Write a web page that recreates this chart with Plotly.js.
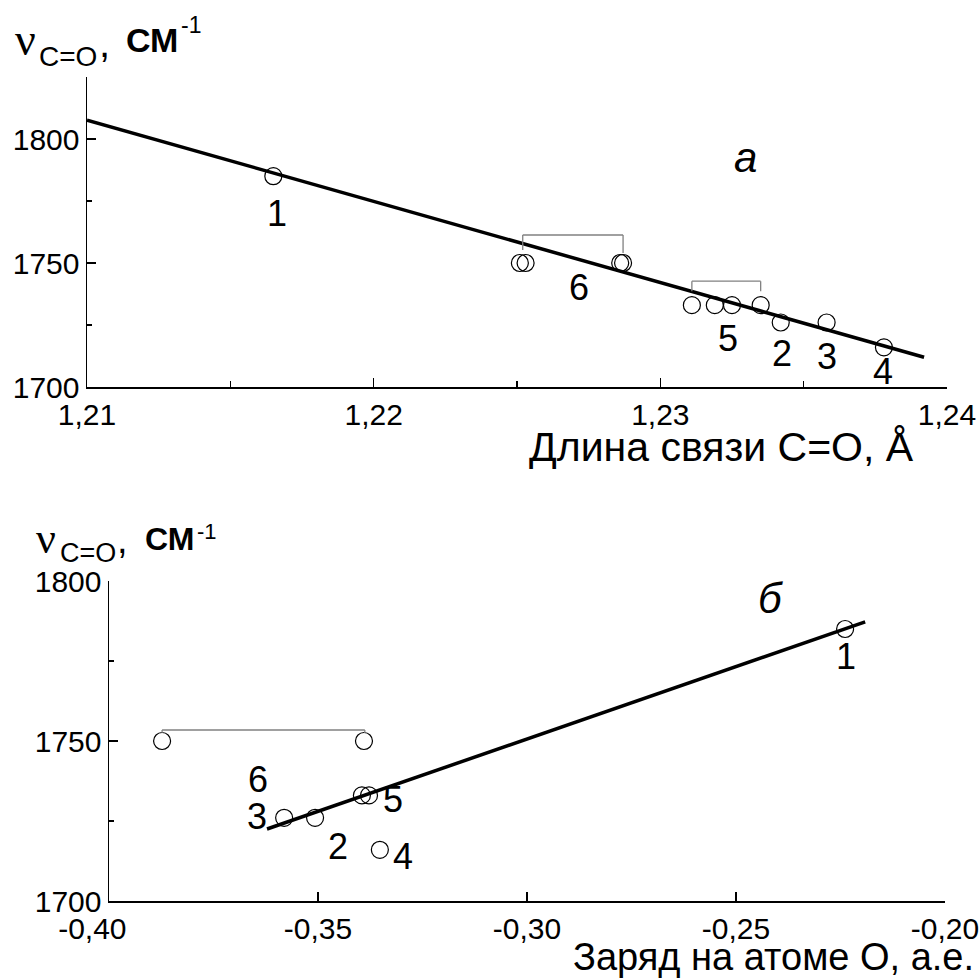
<!DOCTYPE html>
<html>
<head>
<meta charset="utf-8">
<script src="https://cdn.plot.ly/plotly-3.0.1.min.js"></script>
<style>html,body{margin:0;padding:0;background:#fff;}#chart{width:980px;height:979px;}</style>
</head>
<body>
<div id="chart"></div>
<script>
// ---------- DATA ----------
// panel a: bond length C=O (Å) vs nu(C=O) (cm-1)
const bondLen   = [1.2165, 1.2251, 1.2253, 1.2286, 1.2287, 1.2311, 1.2319, 1.2325, 1.2335, 1.2342, 1.2358, 1.2378];
const nuA       = [1785,   1750,   1750,   1750,   1750,   1733,   1733,   1733,   1733,   1726,   1726,   1716];
const fitAX     = [1.2100, 1.2392];
const fitAY     = [1807.6, 1712.0];
// panel b: charge on O atom (a.u.) vs nu(C=O)
const chargeO   = [-0.2239, -0.3873, -0.3390, -0.3395, -0.3378, -0.3581, -0.3507, -0.3352];
const nuB       = [1785,    1750,    1750,    1733,    1733,    1726,    1726,    1716];
const fitBX     = [-0.3622, -0.2191];
const fitBY     = [1722.5,  1787.2];
// group brackets (x span, group level)
const bracketA6 = [1.2252, 1.2287], levelA6 = 1750;
const bracketA5 = [1.2311, 1.2335], levelA5 = 1733;
const bracketB6 = [-0.3873, -0.3388], levelB6 = 1750;
// compound numbers
const labelsA   = ['1', '6', '5', '2', '3', '4'];
const labelsB   = ['1', '6', '5', '3', '2', '4'];
// ticks
const xTickA    = [1.21, 1.22, 1.23, 1.24];
const xTextA    = ['1,21', '1,22', '1,23', '1,24'];
const xMinorA   = [1.215, 1.225, 1.235];
const yTickA    = [1700, 1750, 1800];
const yMinorA   = [1725, 1775, 1825];
const xTickB    = [-0.40, -0.35, -0.30, -0.25, -0.20];
const xTextB    = ['-0,40', '-0,35', '-0,30', '-0,25', '-0,20'];
const yTickB    = [1700, 1750, 1800];
const yMinorB   = [1725, 1775];

// ---------- LAYOUT HELPERS ----------
const W = 980, H = 979;
const px = x => x / W;
const py = y => 1 - y / H;
const FONT = 'Liberation Sans, Arial, sans-serif';
const SERIF = 'Liberation Serif, Times New Roman, serif';
const NB = '\u00a0';

const marker = {symbol: 'circle-open', size: 17, color: '#000', line: {width: 1.2, color: '#000'}};
const traces = [
  {x: bondLen, y: nuA, mode: 'markers', marker: marker, xaxis: 'x', yaxis: 'y', cliponaxis: false},
  {x: fitAX, y: fitAY, mode: 'lines', line: {color: '#000', width: 3.5}, xaxis: 'x', yaxis: 'y', cliponaxis: false},
  {x: chargeO, y: nuB, mode: 'markers', marker: marker, xaxis: 'x2', yaxis: 'y2', cliponaxis: false},
  {x: fitBX, y: fitBY, mode: 'lines', line: {color: '#000', width: 3.5}, xaxis: 'x2', yaxis: 'y2', cliponaxis: false}
];

function axisBase() {
  return {
    showline: true, linecolor: '#000', linewidth: 1.5, mirror: false,
    ticks: 'inside', ticklen: 9, tickwidth: 1.5, tickcolor: '#000',
    showgrid: false, zeroline: false, fixedrange: true,
    tickfont: {family: FONT, size: 30, color: '#000'},
    tickmode: 'array'
  };
}
const xA = Object.assign(axisBase(), {domain: [px(87), px(947)], range: [1.21, 1.24], anchor: 'y',
  tickvals: xTickA, ticktext: xTextA,
  minor: {tickmode: 'array', tickvals: xMinorA, ticks: 'inside', ticklen: 6, tickwidth: 1.5, tickcolor: '#000', showgrid: false}});
const yA = Object.assign(axisBase(), {domain: [py(387), py(77)], range: [1700, 1825], anchor: 'x',
  tickvals: yTickA, ticktext: yTickA.map(String),
  minor: {tickmode: 'array', tickvals: yMinorA, ticks: 'inside', ticklen: 5, tickwidth: 1.5, tickcolor: '#000', showgrid: false}});
const xB = Object.assign(axisBase(), {domain: [px(109), px(945)], range: [-0.40, -0.20], anchor: 'y2',
  tickvals: xTickB, ticktext: xTextB.map((t, i) => i === 0 ? t + NB + NB + NB + NB : t)});
const yB = Object.assign(axisBase(), {domain: [py(901), py(581)], range: [1700, 1800], anchor: 'x2',
  tickvals: yTickB, ticktext: yTickB.map(String),
  minor: {tickmode: 'array', tickvals: yMinorB, ticks: 'inside', ticklen: 5, tickwidth: 1.5, tickcolor: '#000', showgrid: false}});

// brackets as shapes anchored at group level, offsets in pixels
function bracket(xref, yref, span, level, top, leftDrop, rightDrop) {
  const st = {type: 'line', xref: xref, yref: yref, ysizemode: 'pixel', yanchor: level,
              line: {color: '#808080', width: 1.3}};
  return [
    Object.assign({}, st, {x0: span[0], x1: span[1], y0: top, y1: top}),
    Object.assign({}, st, {x0: span[0], x1: span[0], y0: top, y1: leftDrop}),
    Object.assign({}, st, {x0: span[1], x1: span[1], y0: top, y1: rightDrop})
  ];
}
const shapes = [].concat(
  bracket('x', 'y', bracketA6, levelA6, 28, 13, 10),
  bracket('x', 'y', bracketA5, levelA5, 24, 14, 14),
  bracket('x2', 'y2', bracketB6, levelB6, 11, 8, 8)
);

// annotations
const ann = [];
function pAnn(text, x, y, size, opts) {
  ann.push(Object.assign({text: text, xref: 'paper', yref: 'paper', x: px(x), y: py(y),
    xanchor: 'center', yanchor: 'middle', showarrow: false,
    font: {family: FONT, size: size, color: '#000'}}, opts || {}));
}
function dAnn(text, xref, yref, x, y, size) {
  ann.push({text: text, xref: xref, yref: yref, x: x, y: y, xanchor: 'center', yanchor: 'middle',
    showarrow: false, font: {family: FONT, size: size, color: '#000'}});
}
// compound numbers, panel a
const posA = [[1.21663, 1769.9], [1.22716, 1740.2], [1.23236, 1719.7], [1.23424, 1713.7], [1.23581, 1712.1], [1.23777, 1706.4]];
labelsA.forEach((t, i) => dAnn(t, 'x', 'y', posA[i][0], posA[i][1], 36));
// compound numbers, panel b
const posB = [[-0.22368, 1776.3], [-0.36435, 1738.0], [-0.33206, 1731.6], [-0.36459, 1726.3], [-0.34522, 1716.9], [-0.32967, 1713.8]];
labelsB.forEach((t, i) => dAnn(t, 'x2', 'y2', posB[i][0], posB[i][1], 36));

// panel letters
pAnn('<i>а</i>', 745, 157, 42);
pAnn('<i>б</i>', 770, 598, 42);

// y titles (top)
pAnn('ν', 25, 39, 46, {font: {family: SERIF, size: 46, color: '#000'}});
pAnn('C=O', 68, 56, 28);
pAnn(',', 104, 43, 40);
pAnn('<b>СМ</b>', 152, 40, 34);
pAnn('-1', 191, 25, 23);
// y titles (bottom)
pAnn('ν', 46, 538, 44, {font: {family: SERIF, size: 44, color: '#000'}});
pAnn('C=O', 88, 553, 27);
pAnn(',', 122, 540, 38);
pAnn('<b>СМ</b>', 169, 539, 32);
pAnn('-1', 207, 531, 22);

// x titles
pAnn('Длина связи С=О, Å', 916, 447, 41, {xanchor: 'right'});
pAnn('Заряд на атоме О, а.е.', 976, 957, 38, {xanchor: 'right'});

const layout = {
  width: W, height: H,
  margin: {l: 0, r: 0, t: 0, b: 0, pad: 0},
  paper_bgcolor: '#fff', plot_bgcolor: 'rgba(0,0,0,0)',
  showlegend: false,
  font: {family: FONT, color: '#000'},
  xaxis: xA, yaxis: yA, xaxis2: xB, yaxis2: yB,
  shapes: shapes, annotations: ann
};
Plotly.newPlot('chart', traces, layout, {staticPlot: true, displayModeBar: false});
</script>
</body>
</html>
